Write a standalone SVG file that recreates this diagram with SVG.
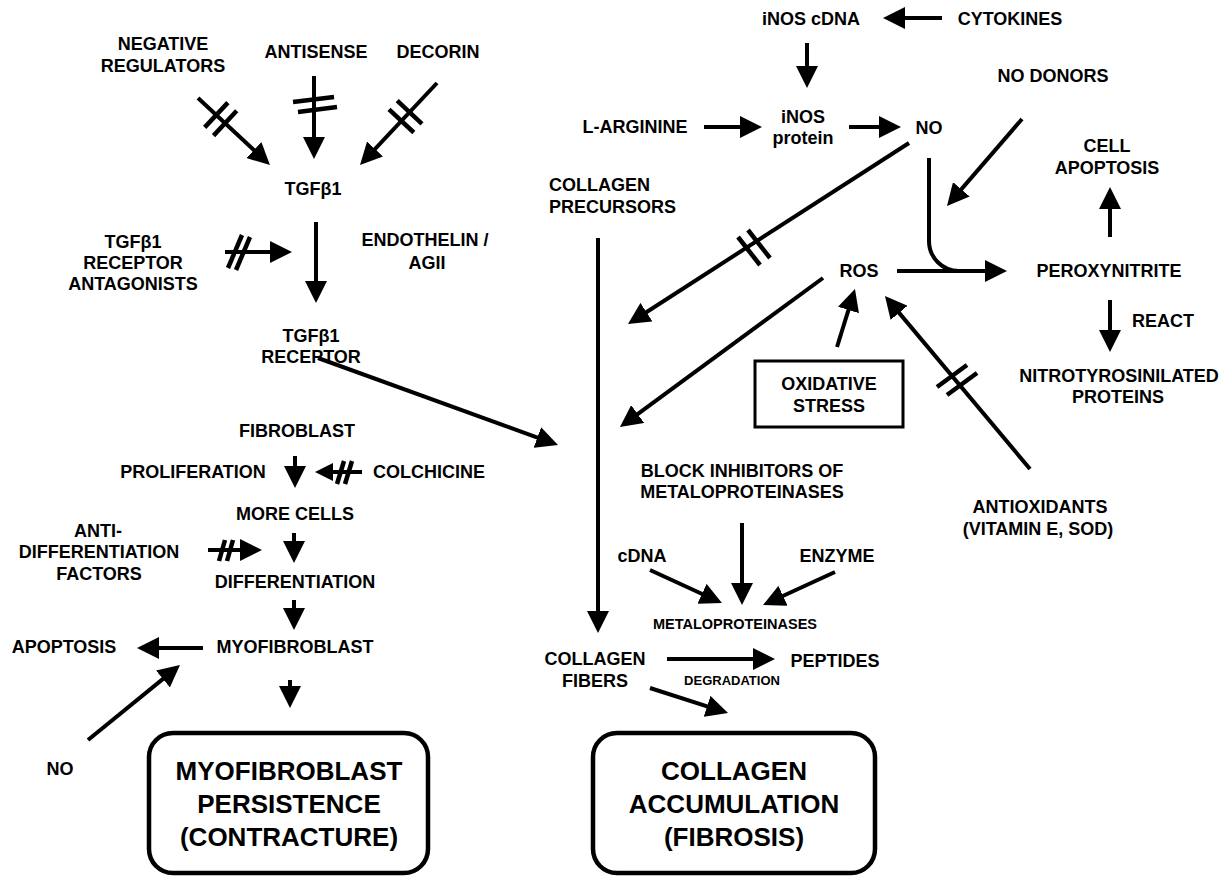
<svg xmlns="http://www.w3.org/2000/svg" width="1231" height="876" viewBox="0 0 1231 876">
<style>
text{font-family:"Liberation Sans",Arial,sans-serif;font-weight:bold;font-size:18px;fill:#000;text-anchor:middle}
.st{text-anchor:start}
.big{font-size:26px}
.sm{font-size:14.5px}
.xs{font-size:13px}
.ln{stroke:#000;stroke-width:4;fill:none}
.ar{stroke:#000;stroke-width:4;fill:none;marker-end:url(#ah)}
.ars{stroke:#000;stroke-width:4;fill:none;marker-end:url(#ahs)}
.tk{stroke:#000;stroke-width:4.5;fill:none}
.box{fill:#fff;stroke:#000;stroke-width:4.5}
.box2{fill:#fff;stroke:#000;stroke-width:3}
</style>
<defs>
<marker id="ah" viewBox="0 0 22 22" markerWidth="22" markerHeight="22" markerUnits="userSpaceOnUse" refX="14" refY="11" orient="auto"><path d="M0,0 L22,11 L0,22 z" fill="#000"/></marker>
<marker id="ahs" viewBox="0 0 18 18" markerWidth="18" markerHeight="18" markerUnits="userSpaceOnUse" refX="10" refY="9" orient="auto"><path d="M0,0 L18,9 L0,18 z" fill="#000"/></marker>
</defs>
<rect width="1231" height="876" fill="#fff"/>

<g id="connectors">
<line class="ar" x1="198" y1="98" x2="264.1" y2="159.6"/>
<line class="tk" x1="204.7" y1="127.4" x2="227.9" y2="102.6"/>
<line class="tk" x1="213.5" y1="135.6" x2="236.7" y2="110.8"/>
<line class="ar" x1="314" y1="76" x2="314" y2="151"/>
<line class="tk" x1="293" y1="102" x2="334" y2="97"/>
<line class="tk" x1="298" y1="112" x2="337" y2="107"/>
<line class="ar" x1="437" y1="83" x2="365.5" y2="159.2"/>
<line class="tk" x1="397.2" y1="100.6" x2="422" y2="123.8"/>
<line class="tk" x1="389" y1="109.3" x2="413.8" y2="132.5"/>
<line class="ar" x1="316" y1="222" x2="316" y2="295"/>
<line class="ar" x1="225" y1="252" x2="284" y2="252"/>
<line class="tk" x1="228" y1="268" x2="242" y2="235"/>
<line class="tk" x1="236" y1="270" x2="250" y2="237"/>
<line class="ar" x1="318" y1="358" x2="550.5" y2="442.3"/>
<line class="ar" x1="295" y1="456" x2="295" y2="480"/>
<line class="ars" x1="362" y1="472" x2="323" y2="472"/>
<line class="tk" x1="337" y1="484" x2="344" y2="461"/>
<line class="tk" x1="345" y1="484" x2="352" y2="461"/>
<line class="ar" x1="294" y1="533" x2="294" y2="555"/>
<line class="ar" x1="208" y1="550" x2="254" y2="550"/>
<line class="tk" x1="219" y1="561" x2="225" y2="540"/>
<line class="tk" x1="227" y1="561" x2="233" y2="540"/>
<line class="ar" x1="294" y1="600" x2="294" y2="622"/>
<line class="ar" x1="203" y1="648" x2="145" y2="648"/>
<line class="ar" x1="88" y1="740" x2="173.8" y2="670.1"/>
<line class="ar" x1="290" y1="680" x2="290" y2="700"/>
<line class="ar" x1="942" y1="18" x2="891" y2="18"/>
<line class="ar" x1="807" y1="43" x2="807" y2="80"/>
<line class="ar" x1="704" y1="127" x2="754" y2="127"/>
<line class="ar" x1="849" y1="127" x2="893" y2="127"/>
<line class="ar" x1="1022" y1="119" x2="952.2" y2="199.9"/>
<line class="ar" x1="909" y1="143" x2="634.7" y2="319.7"/>
<line class="tk" x1="738" y1="237" x2="760" y2="265"/>
<line class="tk" x1="748" y1="230" x2="770" y2="258"/>
<line class="ar" x1="823" y1="278" x2="626.4" y2="422.3"/>
<line class="ar" x1="897" y1="271" x2="999" y2="271"/>
<path class="ln" d="M929,158 V241 A30,30 0 0 0 959,271"/>
<line class="ar" x1="1110" y1="237" x2="1110" y2="195"/>
<line class="ar" x1="1110" y1="300" x2="1110" y2="344"/>
<line class="ar" x1="837" y1="347" x2="852.6" y2="296.6"/>
<line class="ar" x1="1030" y1="469" x2="890.1" y2="302.1"/>
<line class="tk" x1="937" y1="387" x2="967" y2="365"/>
<line class="tk" x1="947" y1="395" x2="977" y2="373"/>
<line class="ar" x1="598" y1="238" x2="598" y2="625"/>
<line class="ar" x1="742" y1="523" x2="742" y2="597"/>
<line class="ar" x1="650" y1="570" x2="714.7" y2="599.7"/>
<line class="ar" x1="835" y1="572" x2="770.3" y2="601.7"/>
<line class="ar" x1="667" y1="659" x2="767" y2="659"/>
<line class="ar" x1="650" y1="688" x2="720.4" y2="710.6"/>
</g>

<g id="negative-regulators"><text x="163" y="50">NEGATIVE</text><text x="163" y="72">REGULATORS</text></g>
<g id="antisense"><text x="316" y="58">ANTISENSE</text></g>
<g id="decorin"><text x="438" y="58">DECORIN</text></g>
<g id="tgfb1"><text x="313" y="195">TGFβ1</text></g>
<g id="receptor-antagonists"><text x="133" y="248">TGFβ1</text><text x="133" y="269">RECEPTOR</text><text x="133" y="290">ANTAGONISTS</text></g>
<g id="endothelin"><text x="425" y="246">ENDOTHELIN /</text><text x="427" y="269">AGII</text></g>
<g id="tgfb1-receptor"><text x="311" y="342">TGFβ1</text><text x="311" y="363">RECEPTOR</text></g>
<g id="fibroblast"><text x="297" y="437">FIBROBLAST</text></g>
<g id="proliferation"><text x="193" y="478">PROLIFERATION</text></g>
<g id="colchicine"><text class="st" x="373" y="478">COLCHICINE</text></g>
<g id="more-cells"><text x="295" y="520">MORE CELLS</text></g>
<g id="anti-differentiation"><text x="98" y="537">ANTI-</text><text x="99" y="558">DIFFERENTIATION</text><text x="99" y="580">FACTORS</text></g>
<g id="differentiation"><text x="295" y="588">DIFFERENTIATION</text></g>
<g id="myofibroblast"><text x="295" y="653">MYOFIBROBLAST</text></g>
<g id="apoptosis"><text x="64" y="653">APOPTOSIS</text></g>
<g id="no-left"><text x="60" y="775">NO</text></g>
<g id="myofibroblast-persistence"><rect class="box" x="149" y="733" width="279" height="140" rx="24"/><text class="big" x="289" y="780">MYOFIBROBLAST</text><text class="big" x="289" y="813">PERSISTENCE</text><text class="big" x="289" y="846">(CONTRACTURE)</text></g>

<g id="inos-cdna"><text x="811" y="25">iNOS cDNA</text></g>
<g id="cytokines"><text x="1010" y="25">CYTOKINES</text></g>
<g id="no-donors"><text x="1053" y="82">NO DONORS</text></g>
<g id="l-arginine"><text x="635" y="133">L-ARGININE</text></g>
<g id="inos-protein"><text x="803" y="123">iNOS</text><text x="803" y="144">protein</text></g>
<g id="no"><text x="929" y="134">NO</text></g>
<g id="collagen-precursors"><text class="st" x="549" y="191">COLLAGEN</text><text class="st" x="549" y="213">PRECURSORS</text></g>
<g id="cell-apoptosis"><text x="1107" y="152">CELL</text><text x="1107" y="174">APOPTOSIS</text></g>
<g id="ros"><text x="859" y="277">ROS</text></g>
<g id="peroxynitrite"><text x="1109" y="277">PEROXYNITRITE</text></g>
<g id="react"><text class="st" x="1132" y="327">REACT</text></g>
<g id="nitrotyrosinilated"><text x="1119" y="382">NITROTYROSINILATED</text><text x="1118" y="403">PROTEINS</text></g>
<g id="oxidative-stress"><rect class="box2" x="755" y="361" width="148" height="66"/><text x="829" y="390">OXIDATIVE</text><text x="829" y="412">STRESS</text></g>
<g id="antioxidants"><text x="1040" y="513">ANTIOXIDANTS</text><text x="1038" y="535">(VITAMIN E, SOD)</text></g>
<g id="block-inhibitors"><text x="742" y="477">BLOCK INHIBITORS OF</text><text x="742" y="498">METALOPROTEINASES</text></g>
<g id="cdna"><text x="642" y="562">cDNA</text></g>
<g id="enzyme"><text x="837" y="562">ENZYME</text></g>
<g id="metaloproteinases"><text class="sm" x="735" y="629">METALOPROTEINASES</text></g>
<g id="collagen-fibers"><text x="595" y="665">COLLAGEN</text><text x="595" y="687">FIBERS</text></g>
<g id="peptides"><text x="835" y="667">PEPTIDES</text></g>
<g id="degradation"><text class="xs" x="732" y="685">DEGRADATION</text></g>
<g id="collagen-accumulation"><rect class="box" x="593" y="733" width="282" height="140" rx="24"/><text class="big" x="734" y="780">COLLAGEN</text><text class="big" x="734" y="813">ACCUMULATION</text><text class="big" x="734" y="846">(FIBROSIS)</text></g>
</svg>
